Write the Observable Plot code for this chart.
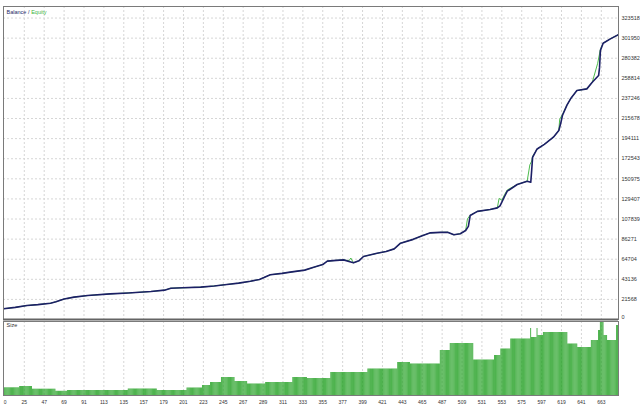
<!DOCTYPE html>
<html><head><meta charset="utf-8">
<script src="https://cdn.jsdelivr.net/npm/d3@7"></script>
<script src="https://cdn.jsdelivr.net/npm/@observablehq/plot@0.6"></script>
<style>
body{margin:0;background:#fff}
#wrap{position:relative;width:640px;height:408px;overflow:hidden;background:#fff}
#wrap svg{position:absolute;left:0;overflow:visible}
</style></head><body><div id="wrap"></div>
<script>
// Balance curve (trade number, account balance)
const balanceTrade = [0,2,15,28,40,54,60,69,80,95,120,140,165,180,187,200,220,235,249,262,275,285,290,297,310,319,335,345,355,360,370,378,385,389,395,400,415,425,434,441,455,465,474,485,493,500,507,513,516,518,526,540,548,551,553,556,559,570,581,585,586,587,592,600,610,616,618,620,625,629,636,647,653,660,661,662,665,673,682];
const balanceValue = [10000,11500,13000,15000,16000,17500,19000,22000,24000,25700,27500,28500,30000,31500,33600,34000,34700,36000,37600,39000,41000,43000,45000,48000,49500,50800,53000,56000,59000,62600,63500,64000,62000,60800,63000,67600,71000,73000,75800,81900,86000,90000,93000,93500,93700,90900,92000,95500,100000,111600,116000,118000,119800,122000,126000,132000,137700,144900,148400,147300,160000,174000,183000,188000,195600,202800,210000,218900,230000,236800,245700,247500,254600,261800,270000,288600,296500,301200,305800];
// Equity curve (trade number, equity)
const equityTrade = [0,2,15,28,40,54,60,69,80,95,120,140,165,180,187,200,220,235,249,262,275,285,290,297,310,319,335,345,355,360,370,378,384,386,389,395,400,415,425,434,441,455,465,474,485,493,500,507,513,515,518,526,540,548,550,553,556,559,570,581,584,586,587,592,600,610,616,617,620,625,629,636,647,653,659,661,662,665,673,682];
const equityValue = [10000,11500,13000,15000,16000,17500,19000,22000,24000,25700,27500,28500,30000,31500,33600,34000,34700,36000,37600,39000,41000,43000,45000,48000,49500,50800,53000,56000,59000,62600,63500,64000,63000,66000,60800,63000,67600,71000,73000,75800,81900,86000,90000,93000,93500,93700,90900,92000,95500,108000,112000,116000,118000,119800,130000,128000,134000,139000,144900,148400,166000,170000,175000,183000,188000,195600,202800,215000,220000,230000,236800,245700,247500,254600,275000,285000,290000,296500,301200,305800];
// Position size per trade, in runs of equal size (from trade, to trade, lots)
const sizeFrom = [0,20,34,60,73,140,172,205,222,231,243,258,272,292,322,338,364,405,438,452,485,496,522,545,552,563,585,586,592,593,599,626,637,652,660,662,666,670,680];
const sizeTo   = [20,34,60,73,140,172,205,222,231,243,258,272,292,322,338,364,405,438,452,485,496,522,545,552,563,585,586,592,593,599,626,637,652,660,662,666,670,680,682];
const sizeLots = [0.77,0.9,0.63,0.42,0.5,0.65,0.5,0.75,1.0,1.3,1.8,1.4,1.15,1.3,1.8,1.7,2.3,2.65,3.3,3.15,4.5,5.2,3.55,4.0,4.65,5.65,6.7,5.8,6.7,6.0,6.3,5.15,4.8,5.5,6.5,7.4,6.0,5.5,7.0];
// Axis tick labels
const yTicks = [0,21568,43136,64704,86271,107839,129407,150975,172543,194111,215678,237246,258814,280382,301950,323518];
const xTicks = [0,25,47,69,91,113,135,157,179,201,223,245,267,289,311,333,355,377,399,421,443,465,487,509,531,553,575,597,619,641,663];

const FONT = "Liberation Sans, Arial, sans-serif";
const xDomain = [2, 682];
const gridColor = "#d6d6d6";

const balance = balanceTrade.map((t, i) => ({trade: t, value: balanceValue[i]}));
const equity = equityTrade.map((t, i) => ({trade: t, value: equityValue[i]}));
const bars = [];
sizeFrom.forEach((f, i) => { for (let t = f; t < sizeTo[i]; t++) bars.push({trade: t, lots: sizeLots[i]}); });

const upper = Plot.plot({
  width: 640, height: 320,
  marginTop: 6, marginBottom: 1, marginLeft: 3, marginRight: 22,
  x: {domain: xDomain, axis: null},
  y: {domain: [0, 335900], axis: null},
  style: {fontFamily: FONT, background: "transparent", overflow: "visible"},
  marks: [
    Plot.ruleX(xTicks.filter(d => d > 2), {x: d => d, stroke: gridColor, strokeDasharray: "2,2"}),
    Plot.ruleY(yTicks, {y: d => d, stroke: gridColor, strokeDasharray: "2,2"}),
    Plot.line(equity, {x: "trade", y: "value", stroke: "#4cbb4c", strokeWidth: 1, clip: true}),
    Plot.line(balance, {x: "trade", y: "value", stroke: "#1c1f66", strokeWidth: 1.6, clip: true}),
    Plot.frame({stroke: "#7a7a7a"}),
    Plot.ruleY([0], {stroke: "#646464", strokeWidth: 2.2}),
    Plot.text(yTicks.filter(d => d > 0), {y: d => d, frameAnchor: "right", dx: 3, textAnchor: "start", text: d => String(d), fontSize: 5.5, fill: "#333"}),
    Plot.text(yTicks.filter(d => d === 0), {y: d => d, frameAnchor: "right", dx: 3, dy: -2, textAnchor: "start", text: d => String(d), fontSize: 5.5, fill: "#333"}),
    Plot.text(["Balance / "], {frameAnchor: "top-left", dx: 3, dy: 6, lineAnchor: "middle", textAnchor: "start", text: d => d, fontSize: 5.5, fill: "#1c1f66"}),
    Plot.text(["Equity"], {frameAnchor: "top-left", dx: 27.7, dy: 6, lineAnchor: "middle", textAnchor: "start", text: d => d, fontSize: 5.5, fill: "#3db43d"})
  ]
});
upper.style.top = "0px";

const lower = Plot.plot({
  width: 640, height: 88,
  marginTop: 1, marginBottom: 13, marginLeft: 3, marginRight: 22,
  x: {domain: xDomain, axis: null},
  y: {domain: [0, 7.4], axis: null},
  style: {fontFamily: FONT, background: "transparent"},
  marks: [
    Plot.ruleX(xTicks.filter(d => d > 2), {x: d => d, stroke: gridColor, strokeDasharray: "2,2"}),
    Plot.rectY(bars, {x1: "trade", x2: d => d.trade + 1, y: "lots", fill: "#2ea52e", insetRight: 0.08, clip: true}),
    Plot.frame({stroke: "#7a7a7a"}),
    Plot.text(["Size"], {frameAnchor: "top-left", dx: 3, dy: 4, lineAnchor: "middle", textAnchor: "start", text: d => d, fontSize: 5.5, fill: "#333"}),
    Plot.text(xTicks.filter(d => d > 0), {x: d => d, frameAnchor: "bottom", dy: 7, lineAnchor: "middle", text: d => String(d), fontSize: 5, fill: "#333"}),
    Plot.text(xTicks.filter(d => d === 0), {x: d => d, frameAnchor: "bottom", dy: 7, dx: 2, lineAnchor: "middle", textAnchor: "start", text: d => String(d), fontSize: 5, fill: "#333"})
  ]
});
lower.style.top = "320px";

const wrap = document.getElementById("wrap");
wrap.appendChild(upper);
wrap.appendChild(lower);
</script>
</body></html>
